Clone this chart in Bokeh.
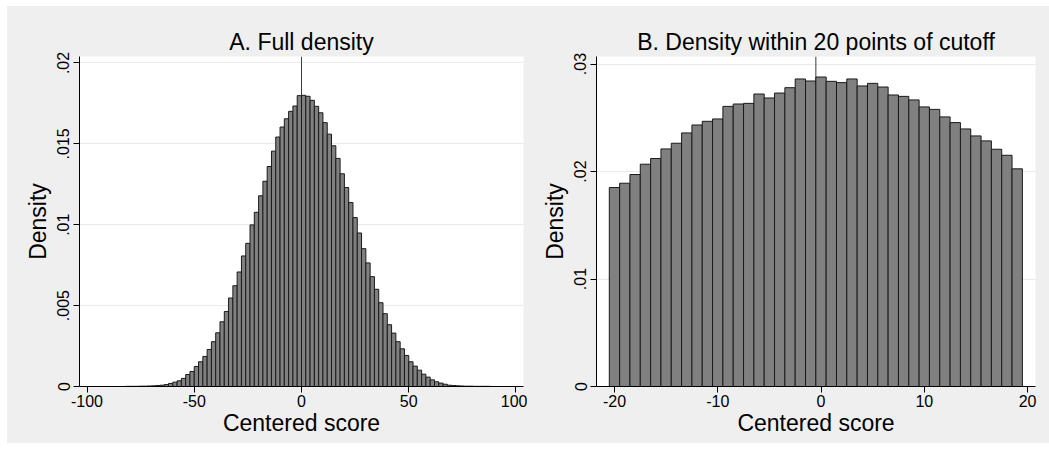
from bokeh.plotting import figure
from bokeh.layouts import row
from bokeh.models import Range1d, FixedTicker, Span
from bokeh.embed import file_html
from bokeh.resources import INLINE

# Panel A: full density, bins of width 2 starting at -82
a_bin_width = 2
a_first_edge = -82
a_density = [
    0.00001, 0.00001, 0.00001, 0.00002, 0.00002, 0.00003, 0.00004, 0.00006,
    0.00008, 0.00012, 0.00019, 0.00027, 0.00035, 0.00050, 0.00074, 0.00093,
    0.00124, 0.00153, 0.00186, 0.00229, 0.00277, 0.00332, 0.00400, 0.00464,
    0.00547, 0.00623, 0.00708, 0.00807, 0.00885, 0.00999, 0.01077, 0.01179,
    0.01269, 0.01360, 0.01455, 0.01542, 0.01604, 0.01655, 0.01701, 0.01734,
    0.01798, 0.01800, 0.01794, 0.01769, 0.01732, 0.01692, 0.01631, 0.01560,
    0.01488, 0.01410, 0.01315, 0.01230, 0.01137, 0.01044, 0.00949, 0.00852,
    0.00764, 0.00679, 0.00601, 0.00518, 0.00450, 0.00382, 0.00330, 0.00277,
    0.00233, 0.00192, 0.00153, 0.00126, 0.00101, 0.00076, 0.00058, 0.00041,
    0.00029, 0.00021, 0.00014, 0.00008, 0.00006, 0.00004, 0.00003, 0.00002,
    0.00002, 0.00001, 0.00001, 0.00001, 0.00001,
]
a_left = [a_first_edge + a_bin_width * i for i in range(len(a_density))]
a_right = [x + a_bin_width for x in a_left]
a_xticks = [-100, -50, 0, 50, 100]
a_xlabels = ["-100", "-50", "0", "50", "100"]
a_yticks = [0, 0.005, 0.01, 0.015, 0.02]
a_ylabels = ["0", ".005", ".01", ".015", ".02"]
a_cutoff = 0

# Panel B: within 20 points of the cutoff, unit-width bins centred on integers
b_centers = list(range(-20, 20))
b_density = [
    0.01851, 0.01891, 0.01972, 0.02068, 0.02121, 0.02210, 0.02263, 0.02359,
    0.02433, 0.02467, 0.02489, 0.02606, 0.02628, 0.02634, 0.02721, 0.02684,
    0.02730, 0.02780, 0.02861, 0.02842, 0.02879, 0.02839, 0.02827, 0.02861,
    0.02796, 0.02820, 0.02786, 0.02712, 0.02699, 0.02666, 0.02601, 0.02578,
    0.02508, 0.02455, 0.02396, 0.02331, 0.02285, 0.02207, 0.02151, 0.02025,
]
b_left = [c - 0.5 for c in b_centers]
b_right = [c + 0.5 for c in b_centers]
b_xticks = [-20, -10, 0, 10, 20]
b_xlabels = ["-20", "-10", "0", "10", "20"]
b_yticks = [0, 0.01, 0.02, 0.03]
b_ylabels = ["0", ".01", ".02", ".03"]
b_cutoff = -0.5

FONT = "Liberation Sans"
BG = "#efefef"
BAR_FILL = "#808080"
BAR_LINE = "#1a1a1a"


def panel(title, left, right, tops, xr, yr, xticks, xlabels, yticks, ylabels, cutoff,
          width, border_left, border_right):
    p = figure(width=width, height=437, x_range=Range1d(*xr), y_range=Range1d(*yr),
               output_backend="svg", toolbar_location=None,
               min_border_left=border_left, min_border_right=border_right,
               min_border_top=50, min_border_bottom=57)
    p.background_fill_color = "white"
    p.border_fill_color = BG
    p.outline_line_color = None

    p.title.text = title
    p.title.align = "center"
    p.title.text_font = FONT
    p.title.text_font_size = "23px"
    p.title.text_font_style = "normal"
    p.title.text_color = "black"
    p.title.standoff = 3

    p.xgrid.grid_line_color = None
    p.ygrid.ticker = FixedTicker(ticks=yticks)
    p.ygrid.grid_line_color = "#eaeaea"
    p.ygrid.grid_line_width = 1

    p.xaxis.ticker = FixedTicker(ticks=xticks)
    p.xaxis.major_label_overrides = {t: s for t, s in zip(xticks, xlabels)}
    p.yaxis.ticker = FixedTicker(ticks=yticks)
    p.yaxis.major_label_overrides = {t: s for t, s in zip(yticks, ylabels)}
    p.yaxis.major_label_orientation = "vertical"
    p.xaxis.axis_label = "Centered score"
    p.yaxis.axis_label = "Density"
    for ax in (p.xaxis, p.yaxis):
        ax.axis_line_color = "black"
        ax.axis_line_width = 1
        ax.major_tick_line_color = "black"
        ax.major_tick_out = 6
        ax.major_tick_in = 0
        ax.minor_tick_line_color = None
        ax.major_label_text_font = FONT
        ax.major_label_text_font_size = "16px"
        ax.major_label_text_color = "black"
        ax.axis_label_text_font = FONT
        ax.axis_label_text_font_size = "23px"
        ax.axis_label_text_font_style = "normal"
        ax.axis_label_text_color = "black"
    p.xaxis.major_label_standoff = 2
    p.xaxis.axis_label_standoff = 0
    p.yaxis.major_label_standoff = 4
    p.yaxis.axis_label_standoff = 4

    # cutoff marker sits behind the bars
    p.add_layout(Span(location=cutoff, dimension="height", line_color="#3c3c3c",
                      line_width=1, level="underlay"))
    p.quad(left=left, right=right, top=tops, bottom=0,
           fill_color=BAR_FILL, line_color=BAR_LINE, line_width=1)
    return p


pa = panel("A. Full density", a_left, a_right, a_density, (-103.5, 103.5), (0, 0.0204),
           a_xticks, a_xlabels, a_yticks, a_ylabels, a_cutoff, 520, 72, 4)
pb = panel("B. Density within 20 points of cutoff", b_left, b_right, b_density,
           (-21.74, 20.77), (0, 0.0307), b_xticks, b_xlabels, b_yticks, b_ylabels,
           b_cutoff, 522, 69, 14)

layout = row(pa, pb, margin=(6, 0, 0, 7), spacing=0,
             styles={"background-color": BG})
open("out.html", "w").write(file_html(layout, INLINE))
